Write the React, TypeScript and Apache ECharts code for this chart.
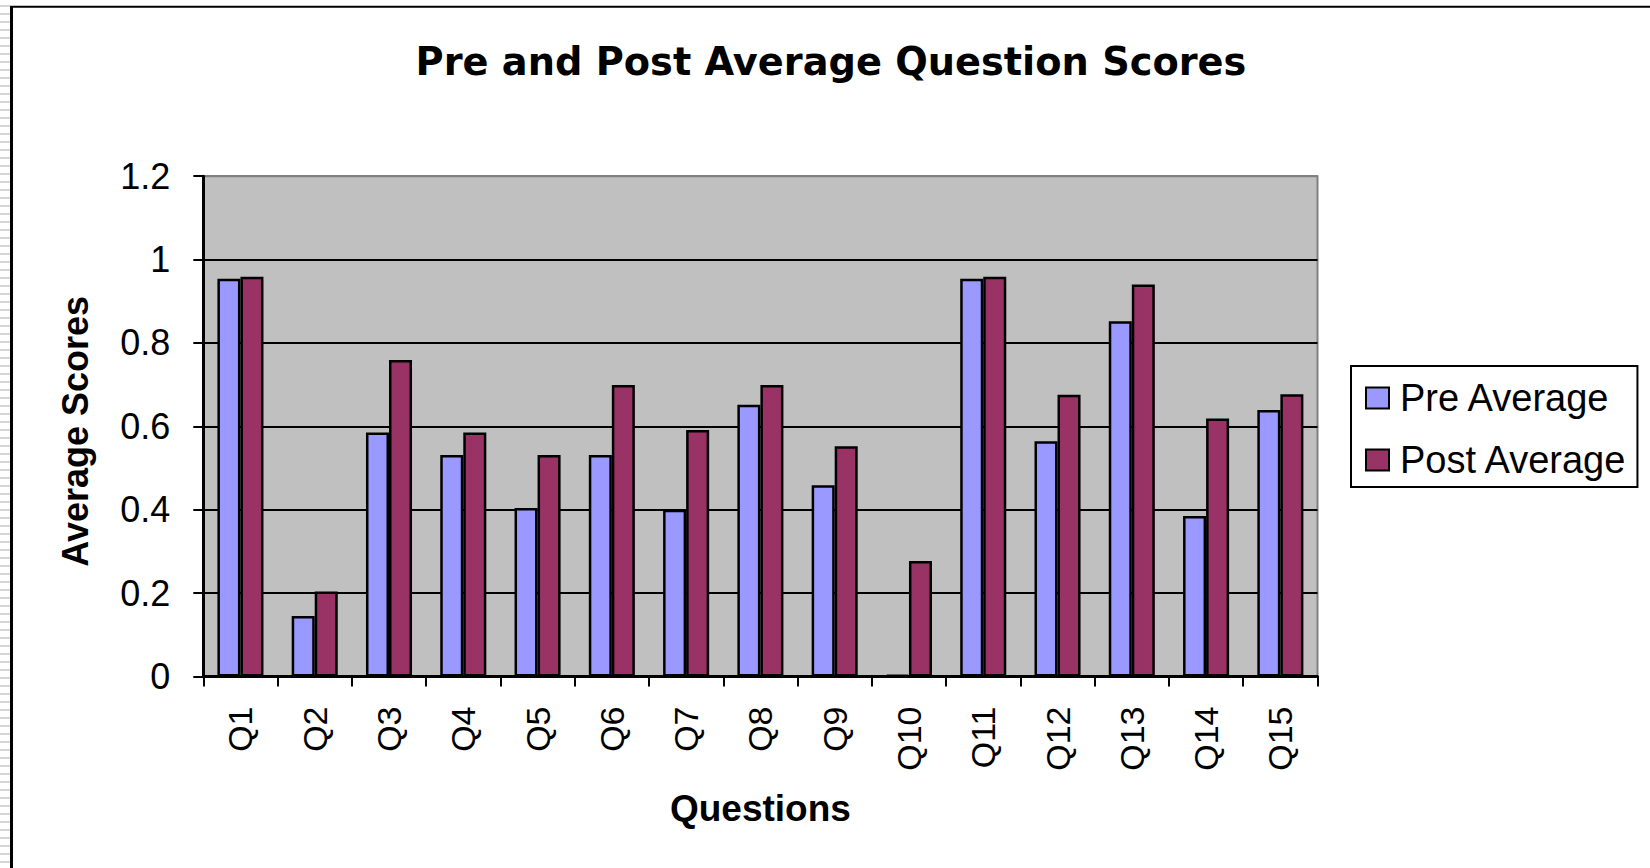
import React, { useEffect, useRef } from "react";
import * as echarts from "echarts";

const categories = ["Q1", "Q2", "Q3", "Q4", "Q5", "Q6", "Q7", "Q8", "Q9", "Q10", "Q11", "Q12", "Q13", "Q14", "Q15"];
const preAverage = [0.954, 0.145, 0.585, 0.531, 0.404, 0.531, 0.4, 0.652, 0.459, 0.004, 0.954, 0.564, 0.852, 0.385, 0.639];
const postAverage = [0.959, 0.204, 0.759, 0.585, 0.531, 0.699, 0.591, 0.699, 0.552, 0.277, 0.959, 0.676, 0.94, 0.619, 0.677];
const seriesNames = ["Pre Average", "Post Average"];
const titleText = "Pre and Post Average Question Scores";
const xName = "Questions";
const yName = "Average Scores";

export default function App() {
  const ref = useRef<HTMLDivElement>(null);
  useEffect(() => {
    if (!ref.current) return;
    const chart = echarts.init(ref.current, null, { renderer: "svg" });
    const stripes: any[] = [];
    for (let k = 0; k < 109; k++) {
      stripes.push({ type: "rect", shape: { x: 0, y: 5 + 8 * k, width: 10, height: 2 }, style: { fill: "#D6D6D6" }, silent: true });
    }
    const sans = "'Liberation Sans', Arial, sans-serif";
    chart.setOption({
      animation: false,
      backgroundColor: "#ffffff",
      title: {
        text: titleText,
        left: 826,
        textAlign: "center",
        top: 37,
        textStyle: { fontFamily: "'DejaVu Sans', sans-serif", fontWeight: "bold", fontSize: 38.3, color: "#000" },
      },
      legend: {
        orient: "vertical",
        left: 1351,
        top: 366,
        icon: "rect",
        itemWidth: 23,
        itemHeight: 21,
        itemGap: 24,
        padding: [13, 10, 8, 14],
        borderColor: "#000",
        borderWidth: 2,
        backgroundColor: "#fff",
        textStyle: { fontFamily: sans, fontSize: 38, lineHeight: 37, color: "#000", padding: [0, 0, 0, 6] },
        data: seriesNames,
      },
      graphic: [
        ...stripes,
        { type: "line", shape: { x1: 10, y1: 6.7, x2: 1650, y2: 6.7 }, style: { stroke: "#000", lineWidth: 2 }, silent: true },
        { type: "line", shape: { x1: 11.5, y1: 6, x2: 11.5, y2: 868 }, style: { stroke: "#000", lineWidth: 3 }, silent: true },
      ],
      grid: {
        left: 203.3,
        right: 332.5,
        top: 176.2,
        bottom: 191.5,
        show: true,
        backgroundColor: "#C0C0C0",
        borderColor: "#808080",
        borderWidth: 2,
        containLabel: false,
      },
      xAxis: {
        type: "category",
        data: categories,
        name: xName,
        nameLocation: "middle",
        nameGap: 113,
        nameTextStyle: { fontFamily: sans, fontWeight: "bold", fontSize: 37, color: "#000" },
        axisLine: { show: true, lineStyle: { color: "#000", width: 3 } },
        axisTick: { show: true, interval: 0, length: 10, lineStyle: { color: "#000", width: 2 } },
        axisLabel: { interval: 0, rotate: 90, margin: 30, fontFamily: sans, fontSize: 34, color: "#000" },
      },
      yAxis: {
        type: "value",
        min: 0,
        max: 1.2,
        interval: 0.2,
        name: yName,
        nameLocation: "middle",
        nameGap: 110,
        nameTextStyle: { fontFamily: sans, fontWeight: "bold", fontSize: 36, color: "#000", padding: [0, 10, 0, 0] },
        axisLine: { show: true, lineStyle: { color: "#000", width: 3 } },
        axisTick: { show: true, length: 10, lineStyle: { color: "#000", width: 2 } },
        axisLabel: { margin: 33, fontFamily: sans, fontSize: 36, color: "#000" },
        splitLine: {
          show: true,
          lineStyle: { color: ["#000", "#000", "#000", "#000", "#000", "#000", "#808080"], width: 2 },
        },
      },
      series: [
        {
          name: seriesNames[0],
          type: "bar",
          data: preAverage,
          barGap: "0%",
          barCategoryGap: "38%",
          itemStyle: { color: "#9999FF", borderColor: "#000", borderWidth: 2.5 },
        },
        {
          name: seriesNames[1],
          type: "bar",
          data: postAverage,
          barGap: "0%",
          barCategoryGap: "38%",
          itemStyle: { color: "#993366", borderColor: "#000", borderWidth: 2.5 },
        },
      ],
    });
    return () => chart.dispose();
  }, []);
  return <div ref={ref} style={{ position: "fixed", left: 0, top: 0, width: 1650, height: 868 }} />;
}
